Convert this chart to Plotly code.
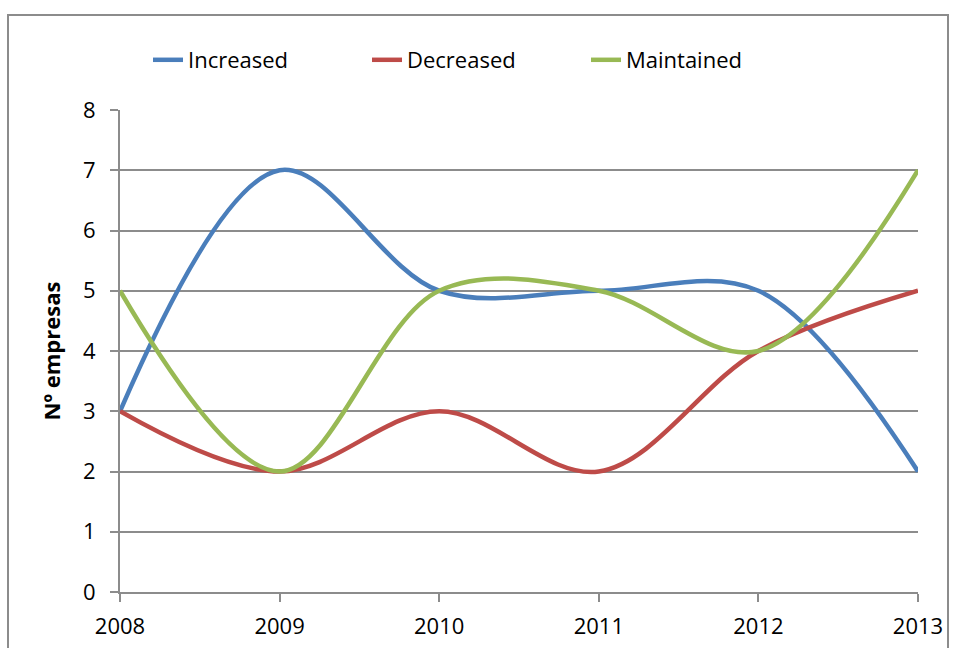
import plotly.graph_objects as go

years = ["2008", "2009", "2010", "2011", "2012", "2013"]
increased = [3, 7, 5, 5, 5, 2]
decreased = [3, 2, 3, 2, 4, 5]
maintained = [5, 2, 5, 5, 4, 7]

series = [
    ("Increased", increased, "#4a7ebb"),
    ("Decreased", decreased, "#be4b48"),
    ("Maintained", maintained, "#98b954"),
]

font_family = "Open Sans, Liberation Sans, sans-serif"
grid_color = "#8c8c8c"

fig = go.Figure()
for name, vals, color in series:
    fig.add_trace(go.Scatter(
        x=list(range(len(years))), y=vals, name=name, mode="lines",
        line=dict(color=color, width=4.5, shape="spline", smoothing=1.0),
    ))

fig.update_layout(
    width=956, height=648,
    margin=dict(l=120, r=38, t=110, b=56),
    paper_bgcolor="white", plot_bgcolor="white",
    font=dict(family=font_family, size=22, color="black"),
    legend=dict(orientation="h", x=(148 - 120) / 798, xanchor="left",
                y=1 - 60 / 648, yanchor="middle", yref="container",
                font=dict(size=22), itemwidth=30,
                entrywidth=174, entrywidthmode="pixels", traceorder="normal"),
    showlegend=True,
    xaxis=dict(
        tickmode="array", tickvals=list(range(len(years))), ticktext=years,
        range=[0, len(years) - 1], showgrid=False, showline=True,
        linecolor=grid_color, linewidth=2, ticks="outside", ticklen=8,
        tickcolor=grid_color, tickwidth=2, zeroline=False,
        tickfont=dict(size=22), ticklabelstandoff=6, automargin=False,
    ),
    yaxis=dict(
        range=[0, 8], dtick=1, showgrid=True, gridcolor=grid_color, gridwidth=1.5,
        showline=True, linecolor=grid_color, linewidth=2, ticks="outside",
        ticklen=8, tickcolor=grid_color, tickwidth=2, zeroline=False,
        tickfont=dict(size=22), ticklabelstandoff=10, automargin=False,
        title=dict(text="<b>Nº empresas</b>", font=dict(size=22), standoff=16),
    ),
)

# outer chart frame
fig.add_shape(type="rect", xref="paper", yref="paper",
              x0=-112 / 798, x1=(948 - 120) / 798, y0=(592 - 660) / 482, y1=(592 - 15) / 482,
              line=dict(color=grid_color, width=2), layer="below")

fig.write_html("out.html")
